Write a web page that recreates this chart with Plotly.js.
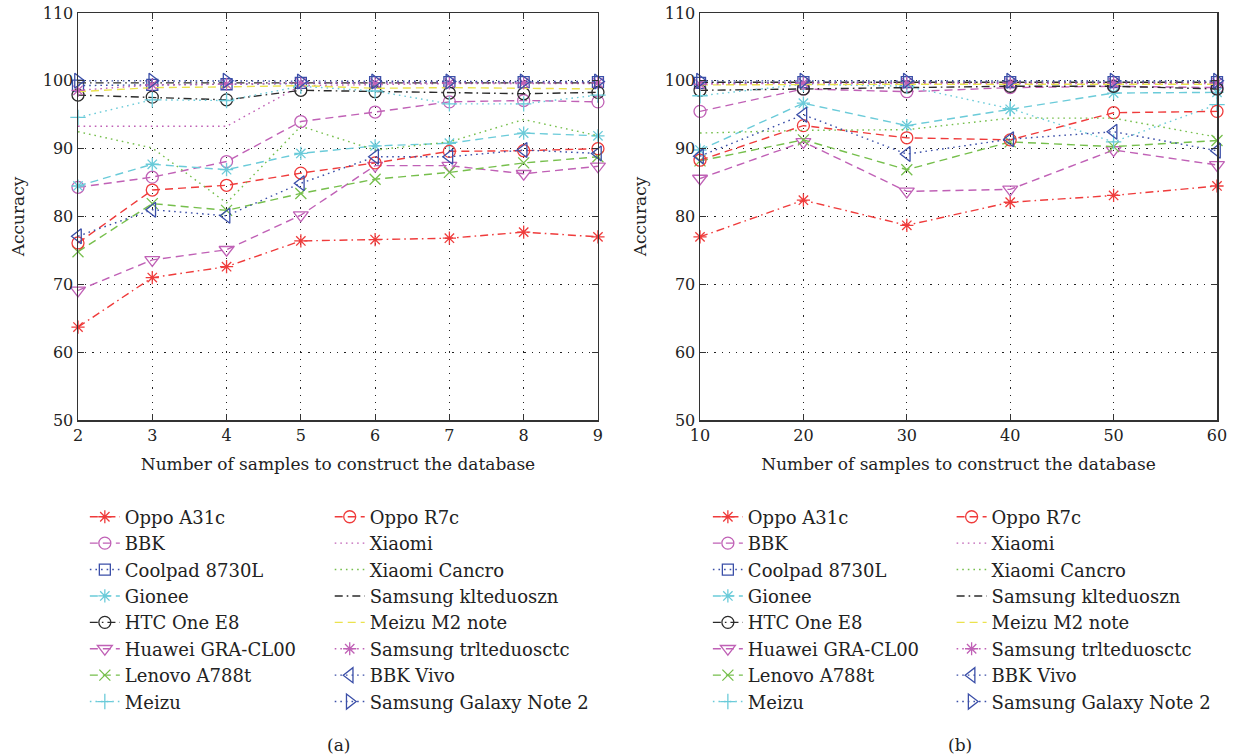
<!DOCTYPE html>
<html>
<head>
<meta charset="utf-8">
<script src="https://cdn.plot.ly/plotly-3.0.1.min.js"></script>
<style>html,body{margin:0;padding:0;background:#fff;}#chart{width:1238px;height:756px;}</style>
</head>
<body>
<div id="chart"></div>
<script>
// ---- data ----
const samplesA = [2, 3, 4, 5, 6, 7, 8, 9];
const samplesB = [10, 20, 30, 40, 50, 60];

const seriesNames = ["Oppo A31c", "BBK", "Coolpad 8730L", "Gionee", "HTC One E8", "Huawei GRA-CL00", "Lenovo A788t", "Meizu",
  "Oppo R7c", "Xiaomi", "Xiaomi Cancro", "Samsung klteduoszn", "Meizu M2 note", "Samsung trlteduosctc", "BBK Vivo", "Samsung Galaxy Note 2"];

// panel (a)
const oppoA31c_a = [63.7, 71.0, 72.6, 76.4, 76.6, 76.8, 77.7, 77.0];
const bbk_a = [84.3, 85.8, 88.1, 94.0, 95.4, 96.9, 97.1, 96.9];
const coolpad_a = [99.3, 99.4, 99.5, 99.7, 99.8, 99.8, 99.8, 99.8];
const gionee_a = [84.5, 87.7, 86.9, 89.3, 90.4, 90.8, 92.3, 91.9];
const htc_a = [97.9, 97.6, 97.2, 98.6, 98.4, 98.2, 98.1, 98.3];
const huawei_a = [69.1, 73.6, 75.1, 80.2, 87.5, 87.5, 86.3, 87.4];
const lenovo_a = [74.8, 81.9, 80.9, 83.4, 85.5, 86.5, 87.9, 88.8];
const meizu_a = [94.6, 97.2, 97.1, 99.2, 98.5, 96.6, 96.6, 97.9];
const oppoR7c_a = [76.1, 83.9, 84.6, 86.4, 87.9, 89.6, 89.7, 90.0];
const xiaomi_a = [93.3, 93.3, 93.3, 99.3, 99.5, 99.6, 99.6, 99.6];
const xiaomiCancro_a = [92.5, 90.1, 82.0, 93.3, 89.8, 91.0, 94.3, 91.9];
const samsungKlte_a = [99.7, 99.7, 99.7, 99.7, 99.7, 99.7, 99.7, 99.7];
const meizuM2_a = [98.4, 99.0, 99.1, 99.3, 98.9, 99.0, 98.9, 98.8];
const samsungTrlte_a = [98.6, 99.4, 99.5, 99.7, 99.7, 99.7, 99.7, 99.7];
const bbkVivo_a = [77.1, 81.0, 80.1, 84.9, 88.8, 88.8, 89.8, 89.3];
const galaxyNote2_a = [100.0, 100.0, 100.0, 99.9, 99.9, 99.9, 99.9, 99.9];

// panel (b)
const oppoA31c_b = [77.0, 82.4, 78.7, 82.1, 83.1, 84.5];
const bbk_b = [95.5, 98.8, 98.4, 99.0, 99.2, 99.0];
const coolpad_b = [99.7, 99.8, 99.8, 99.8, 99.8, 99.8];
const gionee_b = [89.8, 96.7, 93.4, 95.8, 98.2, 98.3];
const htc_b = [98.6, 98.8, 99.1, 99.2, 99.2, 98.8];
const huawei_b = [85.6, 91.0, 83.7, 84.0, 89.8, 87.6];
const lenovo_b = [88.2, 91.3, 86.9, 91.0, 90.3, 91.2];
const meizu_b = [97.8, 99.5, 99.2, 95.9, 91.0, 96.5];
const oppoR7c_b = [88.3, 93.4, 91.6, 91.3, 95.3, 95.5];
const xiaomi_b = [99.6, 99.6, 99.6, 99.6, 99.6, 99.6];
const xiaomiCancro_b = [92.3, 92.7, 92.8, 94.5, 94.5, 91.7];
const samsungKlte_b = [99.8, 99.8, 99.8, 99.8, 99.8, 99.8];
const meizuM2_b = [99.4, 99.5, 99.5, 99.5, 99.5, 99.5];
const samsungTrlte_b = [99.5, 99.7, 99.7, 99.7, 99.7, 99.7];
const bbkVivo_b = [88.9, 95.0, 89.2, 91.4, 92.5, 89.7];
const galaxyNote2_b = [100.0, 100.0, 100.0, 100.0, 100.0, 100.0];

const seriesA = [oppoA31c_a, bbk_a, coolpad_a, gionee_a, htc_a, huawei_a, lenovo_a, meizu_a,
  oppoR7c_a, xiaomi_a, xiaomiCancro_a, samsungKlte_a, meizuM2_a, samsungTrlte_a, bbkVivo_a, galaxyNote2_a];
const seriesB = [oppoA31c_b, bbk_b, coolpad_b, gionee_b, htc_b, huawei_b, lenovo_b, meizu_b,
  oppoR7c_b, xiaomi_b, xiaomiCancro_b, samsungKlte_b, meizuM2_b, samsungTrlte_b, bbkVivo_b, galaxyNote2_b];

const yTicks = [50, 60, 70, 80, 90, 100, 110];
const xTitle = "Number of samples to construct the database";
const yTitle = "Accuracy";
const panelLabels = ["(a)", "(b)"];

// ---- styles ----
const RED = "#ef3b3b", MAG = "#c061b6", BLUE = "#3b4fa8", CYAN = "#6bcbd9", BLACK = "#2b2b2b", GREEN = "#76bf4c", YEL = "#ebe24e";
const DASH = "8px,5px", DOT = "1.6px,4px", DASHDOT = "8px,4px,1.6px,4px";
const styles = [
  {c: RED, d: DASHDOT, s: "asterisk-open"},
  {c: MAG, d: DASH, s: "circle-open"},
  {c: BLUE, d: DOT, s: "square-open"},
  {c: CYAN, d: DASH, s: "asterisk-open"},
  {c: BLACK, d: DASHDOT, s: "circle-open"},
  {c: MAG, d: DASH, s: "triangle-down-open"},
  {c: GREEN, d: DASH, s: "x-thin-open"},
  {c: CYAN, d: DOT, s: "cross-thin-open"},
  {c: RED, d: DASH, s: "circle-open"},
  {c: MAG, d: DOT, s: null},
  {c: GREEN, d: DOT, s: null},
  {c: BLACK, d: DASHDOT, s: null},
  {c: YEL, d: DASH, s: null},
  {c: MAG, d: DOT, s: "asterisk-open"},
  {c: BLUE, d: DOT, s: "triangle-left-open"},
  {c: BLUE, d: DOT, s: "triangle-right-open"}
];
const FONT = "'DejaVu Serif', 'Liberation Serif', serif";

const traces = [];
function addTraces(xs, data, xa, ya, legA, legB) {
  seriesNames.forEach((name, i) => {
    const st = styles[i];
    const t = {
      x: xs, y: data[i], name: name, xaxis: xa, yaxis: ya,
      type: "scatter", mode: st.s ? "lines+markers" : "lines",
      line: {color: st.c, width: 1.4, dash: st.d},
      cliponaxis: false,
      legend: i < 8 ? legA : legB
    };
    if (st.s) {
      const big = st.s.indexOf("triangle") === 0;
      t.marker = {symbol: st.s, size: big ? 13 : (st.s === "circle-open" ? 12 : 11), color: st.c, line: {color: st.c, width: 1.3}};
    }
    traces.push(t);
  });
}
addTraces(samplesA, seriesA, "x", "y", "legend", "legend2");
addTraces(samplesB, seriesB, "x2", "y2", "legend3", "legend4");

const axisCommon = {
  showline: true, linecolor: "#333", linewidth: 1.5, mirror: "ticks",
  ticks: "inside", ticklen: 6, tickcolor: "#333", tickwidth: 1.2,
  showgrid: true, gridcolor: "#222", gridwidth: 1, griddash: "1.2px,6px",
  zeroline: false, tickfont: {family: FONT, size: 16, color: "#222"}
};
const legendCommon = {
  orientation: "v", yanchor: "top", xanchor: "left", y: -0.193,
  bgcolor: "rgba(0,0,0,0)", borderwidth: 0, traceorder: "normal",
  font: {family: FONT, size: 18, color: "#222"}, itemwidth: 30, tracegroupgap: 0
};
const titleFont = {family: FONT, size: 17, color: "#222"};

const layout = {
  width: 1238, height: 756,
  margin: {l: 78, r: 21, t: 13, b: 336},
  paper_bgcolor: "#fff", plot_bgcolor: "#fff",
  showlegend: true,
  xaxis: Object.assign({}, axisCommon, {domain: [0, 0.4565], range: [2, 9], dtick: 1, tick0: 2,
    title: {text: xTitle, font: titleFont, standoff: 14}}),
  yaxis: Object.assign({}, axisCommon, {range: [50, 110], tickvals: yTicks,
    title: {text: yTitle, font: titleFont, standoff: 14}}),
  xaxis2: Object.assign({}, axisCommon, {domain: [0.5461, 1], range: [10, 60], dtick: 10, tick0: 10, anchor: "y2",
    title: {text: xTitle, font: titleFont, standoff: 14}}),
  yaxis2: Object.assign({}, axisCommon, {range: [50, 110], tickvals: yTicks, anchor: "x2",
    title: {text: yTitle, font: titleFont, standoff: 14}}),
  legend: Object.assign({}, legendCommon, {x: 0.006}),
  legend2: Object.assign({}, legendCommon, {x: 0.221}),
  legend3: Object.assign({}, legendCommon, {x: 0.553}),
  legend4: Object.assign({}, legendCommon, {x: 0.767}),
  annotations: [
    {text: panelLabels[0], xref: "paper", yref: "paper", x: 0.2283, y: -0.7985, yanchor: "middle", xanchor: "center", showarrow: false, font: {family: FONT, size: 17, color: "#222"}},
    {text: panelLabels[1], xref: "paper", yref: "paper", x: 0.7744, y: -0.7985, yanchor: "middle", xanchor: "center", showarrow: false, font: {family: FONT, size: 17, color: "#222"}}
  ]
};

Plotly.newPlot("chart", traces, layout, {displayModeBar: false, staticPlot: true});
</script>
</body>
</html>
